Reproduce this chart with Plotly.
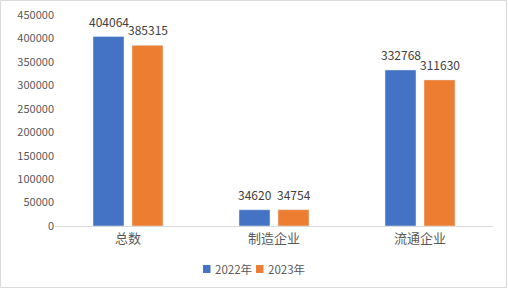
import plotly.graph_objects as go

categories = ["总数", "制造企业", "流通企业"]
series_names = ["2022年", "2023年"]
values_2022 = [404064, 34620, 332768]
values_2023 = [385315, 34754, 311630]
y_ticks = [0, 50000, 100000, 150000, 200000, 250000, 300000, 350000, 400000, 450000]

colors = ["#4472C4", "#ED7D31"]
W, H = 508, 289
ml, mr, mt, mb = 55, 15, 15, 63
pw, ph = W - ml - mr, H - mt - mb
FONT = "Noto Sans CJK SC, Noto Sans, sans-serif"

fig = go.Figure()
annotations = []
shapes = []
offsets = [-19.5, 19.5]
for name, vals, c, off in zip(series_names, [values_2022, values_2023], colors, offsets):
    fig.add_trace(go.Bar(x=categories, y=vals, name=name, marker_color=c, showlegend=False))
    for cat, v in zip(categories, vals):
        annotations.append(dict(x=cat, y=v, xref="x", yref="y", text=str(v), showarrow=False,
                                xshift=off, yshift=5, yanchor="bottom",
                                font=dict(size=12, color="#404040", family=FONT)))

# legend drawn as colored squares + labels
leg_sq_x = [203, 256]
leg_tx_x = [213, 266]
leg_y = 269
for name, c, sx, tx in zip(series_names, colors, leg_sq_x, leg_tx_x):
    shapes.append(dict(type="rect", xref="paper", yref="paper",
                       x0=(sx - ml) / pw, x1=(sx + 7.5 - ml) / pw,
                       y0=(H - mb - (leg_y + 4)) / ph, y1=(H - mb - (leg_y - 4)) / ph,
                       line=dict(width=0), fillcolor=c))
    annotations.append(dict(x=(tx - ml) / pw, y=(H - mb - leg_y) / ph, xref="paper", yref="paper",
                            text=name, showarrow=False, xanchor="left", yanchor="middle",
                            font=dict(size=11.5, color="#595959", family=FONT)))

shapes.append(dict(type="rect", xref="paper", yref="paper",
                   x0=(0.5 - ml) / pw, x1=(506.5 - ml) / pw,
                   y0=-(mb - 1.5) / ph, y1=1 + (mt - 0.5) / ph,
                   line=dict(color="#D9D9D9", width=1), fillcolor="rgba(0,0,0,0)", layer="below"))

fig.update_layout(
    width=W, height=H,
    margin=dict(l=ml, r=mr, t=mt, b=mb, autoexpand=False),
    paper_bgcolor="white", plot_bgcolor="white",
    font=dict(family=FONT, color="#595959", size=11),
    barmode="group", bargap=0.466, bargroupgap=0.205,
    showlegend=False,
    xaxis=dict(showline=True, linecolor="#D9D9D9", linewidth=1, ticks="", automargin=False,
               tickfont=dict(size=13, color="#595959"), showgrid=False),
    yaxis=dict(range=[0, 450000], tickvals=y_ticks, ticktext=[str(v) for v in y_ticks],
               showgrid=False, zeroline=False, showline=False, ticks="", automargin=False,
               tickfont=dict(size=11, color="#595959")),
    annotations=annotations,
    shapes=shapes,
)

fig.write_html("out.html")
